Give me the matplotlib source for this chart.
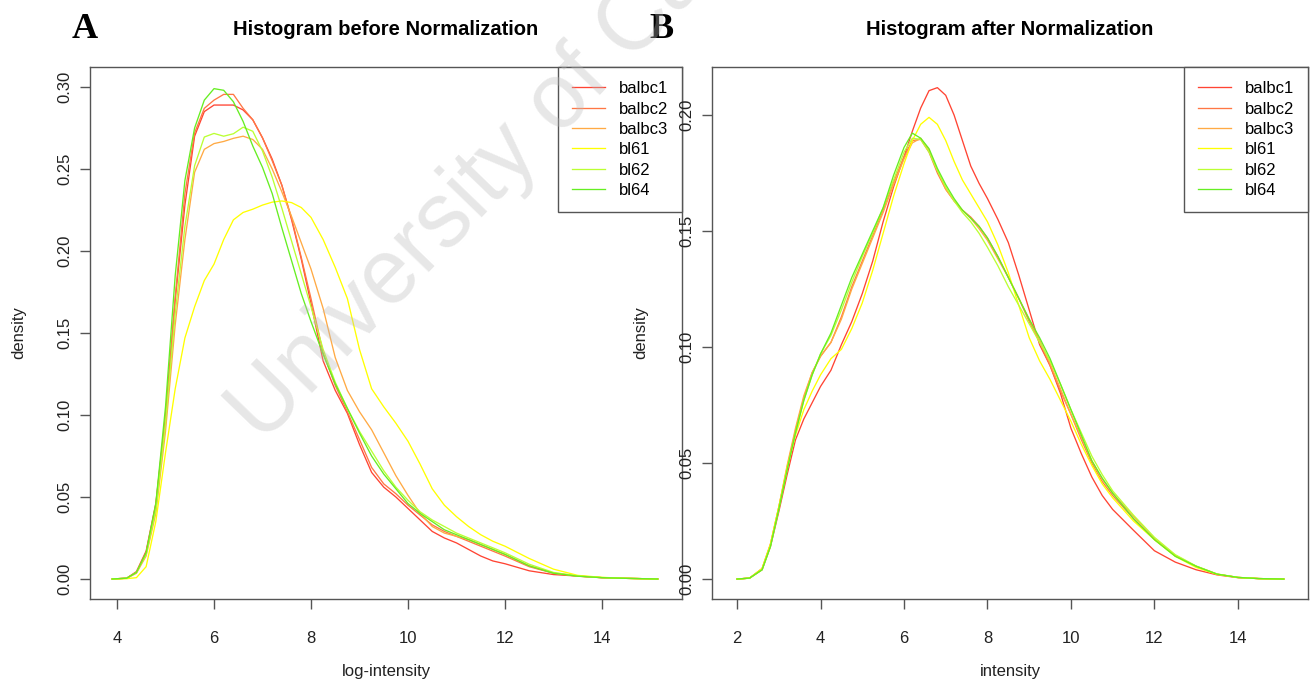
import matplotlib
matplotlib.use('Agg')
import matplotlib.pyplot as plt
from matplotlib import rcParams

DPI       = 100
COL_AXIS  = '#555555'
COL_TEXT  = '#222222'

SAMPLES = ['balbc1', 'balbc2', 'balbc3', 'bl61', 'bl62', 'bl64']
COLORS  = ['#FF4433', '#FF7744', '#FFAA44', '#FFFF00', '#BBFF33', '#66EE22']

# density estimates on log-intensity, before normalization
X_BEFORE = [3.9, 4.2, 4.4, 4.6, 4.8, 5.0, 5.2, 5.4, 5.6, 5.8, 6.0, 6.2, 6.4, 6.6,
            6.8, 7.0, 7.2, 7.4, 7.6, 7.8, 8.0, 8.25, 8.5, 8.75, 9.0, 9.25, 9.5,
            9.75, 10.0, 10.25, 10.5, 10.75, 11.0, 11.25, 11.5, 11.75, 12.0, 12.5,
            13.0, 13.5, 14.0, 14.5, 15.15]
BEFORE_BALBC1 = [0, 0.0005, 0.0045, 0.017, 0.046, 0.099, 0.170, 0.228, 0.270, 0.285,
                 0.289, 0.289, 0.289, 0.286, 0.280, 0.269, 0.256, 0.240, 0.219, 0.195,
                 0.168, 0.133, 0.115, 0.101, 0.082, 0.065, 0.056, 0.050, 0.043, 0.036,
                 0.029, 0.025, 0.022, 0.018, 0.014, 0.011, 0.0093, 0.005, 0.0027,
                 0.0018, 0.0008, 0.0004, 0]
BEFORE_BALBC2 = [0, 0.0005, 0.004, 0.016, 0.045, 0.098, 0.172, 0.235, 0.272, 0.287,
                 0.292, 0.2955, 0.2955, 0.287, 0.280, 0.269, 0.255, 0.240, 0.220, 0.196,
                 0.171, 0.138, 0.118, 0.102, 0.085, 0.068, 0.058, 0.052, 0.045, 0.039,
                 0.033, 0.029, 0.026, 0.023, 0.020, 0.017, 0.014, 0.0075, 0.0035,
                 0.0017, 0.0008, 0.0004, 0]
BEFORE_BALBC3 = [0, 0.0004, 0.0035, 0.014, 0.040, 0.090, 0.155, 0.207, 0.248, 0.262,
                 0.2655, 0.2668, 0.2687, 0.270, 0.268, 0.262, 0.250, 0.236, 0.221, 0.205,
                 0.189, 0.165, 0.135, 0.115, 0.102, 0.091, 0.077, 0.063, 0.051, 0.040,
                 0.032, 0.028, 0.026, 0.024, 0.021, 0.018, 0.015, 0.008, 0.0037,
                 0.0018, 0.0008, 0.0004, 0]
BEFORE_BL61 = [0, 0.0002, 0.0008, 0.0075, 0.035, 0.077, 0.116, 0.147, 0.166, 0.182,
               0.192, 0.207, 0.219, 0.2235, 0.2255, 0.228, 0.2298, 0.2305, 0.2295, 0.2265,
               0.2205, 0.207, 0.190, 0.171, 0.140, 0.116, 0.105, 0.095, 0.084, 0.070,
               0.055, 0.045, 0.038, 0.032, 0.027, 0.023, 0.020, 0.0125, 0.006,
               0.0022, 0.001, 0.0004, 0]
BEFORE_BL62 = [0, 0.0005, 0.004, 0.015, 0.042, 0.095, 0.162, 0.215, 0.252, 0.2695,
               0.2717, 0.270, 0.2715, 0.2755, 0.273, 0.261, 0.245, 0.226, 0.206, 0.186,
               0.166, 0.140, 0.120, 0.104, 0.090, 0.078, 0.066, 0.056, 0.048, 0.041,
               0.036, 0.032, 0.028, 0.025, 0.022, 0.019, 0.016, 0.009, 0.004,
               0.0019, 0.0009, 0.0004, 0]
BEFORE_BL64 = [0, 0.0005, 0.004, 0.016, 0.046, 0.105, 0.185, 0.243, 0.275, 0.292,
               0.299, 0.298, 0.291, 0.279, 0.264, 0.251, 0.235, 0.214, 0.194, 0.174,
               0.157, 0.137, 0.119, 0.104, 0.089, 0.075, 0.064, 0.055, 0.046, 0.040,
               0.035, 0.030, 0.027, 0.024, 0.021, 0.018, 0.015, 0.008, 0.0035,
               0.0017, 0.0008, 0.0004, 0]

# density estimates on intensity, after normalization
X_AFTER = [2.0, 2.3, 2.6, 2.8, 3.0, 3.2, 3.4, 3.6, 3.8, 4.0, 4.25, 4.5, 4.75, 5.0,
           5.25, 5.5, 5.75, 6.0, 6.2, 6.4, 6.6, 6.8, 7.0, 7.2, 7.4, 7.6, 7.8, 8.0,
           8.25, 8.5, 8.75, 9.0, 9.25, 9.5, 9.75, 10.0, 10.25, 10.5, 10.75, 11.0,
           11.5, 12.0, 12.5, 13.0, 13.5, 14.0, 14.5, 15.1]
AFTER_BALBC1 = [0, 0.0004, 0.004, 0.014, 0.029, 0.045, 0.060, 0.069, 0.076, 0.083,
                0.090, 0.101, 0.111, 0.123, 0.137, 0.154, 0.169, 0.182, 0.193, 0.203,
                0.2105, 0.2118, 0.2085, 0.200, 0.189, 0.178, 0.1705, 0.164, 0.155, 0.145,
                0.131, 0.116, 0.101, 0.092, 0.080, 0.065, 0.054, 0.044, 0.036, 0.030,
                0.021, 0.0122, 0.0073, 0.0040, 0.0018, 0.0006, 0.0002, 0]
AFTER_BALBC2 = [0, 0.0004, 0.0045, 0.015, 0.031, 0.048, 0.064, 0.078, 0.089, 0.096,
                0.102, 0.113, 0.126, 0.137, 0.148, 0.159, 0.171, 0.182, 0.189, 0.1895,
                0.184, 0.175, 0.168, 0.163, 0.159, 0.156, 0.152, 0.147, 0.139, 0.130,
                0.121, 0.111, 0.102, 0.092, 0.081, 0.071, 0.060, 0.050, 0.042, 0.036,
                0.026, 0.017, 0.010, 0.0055, 0.0021, 0.0007, 0.0002, 0]
AFTER_BALBC3 = [0, 0.0004, 0.0045, 0.015, 0.031, 0.049, 0.065, 0.079, 0.089, 0.096,
                0.102, 0.112, 0.125, 0.136, 0.147, 0.158, 0.170, 0.181, 0.188, 0.1900,
                0.185, 0.176, 0.168, 0.163, 0.159, 0.1555, 0.151, 0.146, 0.138, 0.130,
                0.121, 0.112, 0.103, 0.093, 0.082, 0.071, 0.061, 0.051, 0.043, 0.037,
                0.027, 0.0175, 0.0102, 0.0055, 0.0021, 0.0007, 0.0002, 0]
AFTER_BL61 = [0, 0.0004, 0.0045, 0.015, 0.031, 0.048, 0.062, 0.073, 0.081, 0.088,
              0.095, 0.099, 0.108, 0.119, 0.133, 0.149, 0.165, 0.179, 0.189, 0.196,
              0.199, 0.196, 0.189, 0.180, 0.172, 0.166, 0.160, 0.154, 0.144, 0.132,
              0.118, 0.104, 0.094, 0.086, 0.077, 0.068, 0.058, 0.049, 0.041, 0.035,
              0.025, 0.017, 0.0098, 0.005, 0.002, 0.0007, 0.0002, 0]
AFTER_BL62 = [0, 0.0004, 0.004, 0.014, 0.030, 0.047, 0.063, 0.077, 0.088, 0.097,
              0.105, 0.116, 0.128, 0.139, 0.149, 0.160, 0.172, 0.184, 0.190, 0.1895,
              0.184, 0.176, 0.169, 0.163, 0.158, 0.154, 0.149, 0.143, 0.135, 0.126,
              0.118, 0.110, 0.102, 0.094, 0.084, 0.073, 0.063, 0.053, 0.045, 0.038,
              0.0275, 0.018, 0.0105, 0.0056, 0.0022, 0.0007, 0.0002, 0]
AFTER_BL64 = [0, 0.0004, 0.004, 0.014, 0.030, 0.047, 0.063, 0.077, 0.088, 0.097,
              0.106, 0.118, 0.130, 0.140, 0.150, 0.160, 0.174, 0.186, 0.1922, 0.190,
              0.1855, 0.177, 0.170, 0.164, 0.159, 0.1555, 0.152, 0.147, 0.139, 0.130,
              0.121, 0.112, 0.104, 0.095, 0.084, 0.073, 0.062, 0.051, 0.0435, 0.037,
              0.026, 0.017, 0.0098, 0.0055, 0.0021, 0.0007, 0.0002, 0]

BEFORE = [BEFORE_BALBC1, BEFORE_BALBC2, BEFORE_BALBC3, BEFORE_BL61, BEFORE_BL62, BEFORE_BL64]
AFTER  = [AFTER_BALBC1, AFTER_BALBC2, AFTER_BALBC3, AFTER_BL61, AFTER_BL62, AFTER_BL64]


def apply_rcparams():
    rcParams['font.family']       = 'sans-serif'
    rcParams['font.sans-serif']   = ['Liberation Sans', 'Arial', 'DejaVu Sans']
    rcParams['font.size']         = 12
    rcParams['axes.linewidth']    = 1.0
    rcParams['xtick.major.size']  = 7
    rcParams['ytick.major.size']  = 7
    rcParams['xtick.major.width'] = 1.0
    rcParams['ytick.major.width'] = 1.0
    rcParams['xtick.direction']   = 'out'
    rcParams['ytick.direction']   = 'out'


def density_panel(ax, x, curves, title, xlabel, xlim, ylim, xticks, yticks):
    for y, col, name in zip(curves, COLORS, SAMPLES):
        ax.plot(x, y, color=col, lw=0.95, label=name)
    ax.set_xlim(*xlim); ax.set_ylim(*ylim)
    ax.set_xticks(xticks)
    ax.set_xticklabels([f"{t:g}" for t in xticks])
    ax.set_yticks(yticks)
    ax.set_yticklabels([f"{t:.2f}" for t in yticks])
    for sp in ax.spines.values():
        sp.set_color(COL_AXIS); sp.set_linewidth(1.0)
    ax.tick_params(colors=COL_AXIS, labelcolor=COL_TEXT, labelsize=12)
    ax.tick_params(axis='x', pad=16)
    ax.tick_params(axis='y', pad=6)
    for lab in ax.get_yticklabels():
        lab.set_rotation(90); lab.set_va('center')
    ax.set_title(title, fontsize=14.5, fontweight='bold', pad=23, color='black')
    ax.set_xlabel(xlabel, fontsize=12, labelpad=13, color=COL_TEXT)
    ax.set_ylabel('density', fontsize=12, labelpad=22, color=COL_TEXT)
    leg = ax.legend(loc='upper right', bbox_to_anchor=(1.0, 1.0), borderaxespad=0.0,
                    fancybox=False, framealpha=1.0, fontsize=12, handlelength=2.0,
                    handletextpad=0.8, labelspacing=0.32, borderpad=0.85)
    leg.get_frame().set_edgecolor(COL_AXIS)
    leg.get_frame().set_linewidth(1.0)


apply_rcparams()
fig = plt.figure(figsize=(13.15, 6.82), dpi=DPI)
ax_a = fig.add_axes([90 / 1315, 83 / 682, 592 / 1315, 532 / 682])
ax_b = fig.add_axes([712 / 1315, 83 / 682, 596 / 1315, 532 / 682])

density_panel(ax_a, X_BEFORE, BEFORE, 'Histogram before Normalization', 'log-intensity',
              (3.443, 15.65), (-0.0122, 0.3122), [4, 6, 8, 10, 12, 14],
              [0.0, 0.05, 0.10, 0.15, 0.20, 0.25, 0.30])
density_panel(ax_b, X_AFTER, AFTER, 'Histogram after Normalization', 'intensity',
              (1.40, 15.68), (-0.0086, 0.2207), [2, 4, 6, 8, 10, 12, 14],
              [0.0, 0.05, 0.10, 0.15, 0.20])

# panel letters
fig.text(85 / 1315, 1 - 30 / 682, 'A', fontsize=26, fontweight='bold',
         family='Liberation Serif', ha='center', va='center')
fig.text(661 / 1315, 1 - 30 / 682, 'B', fontsize=26, fontweight='bold',
         family='Liberation Serif', ha='center', va='center')

# watermark across panel A
fig.text(262 / 1315, 1 - 445 / 682, 'University of Cape Town', fontsize=66,
         color='#bbbbbb', alpha=0.35, rotation=46, rotation_mode='anchor',
         ha='left', va='baseline', zorder=10)

fig.savefig('out.png', dpi=DPI)
